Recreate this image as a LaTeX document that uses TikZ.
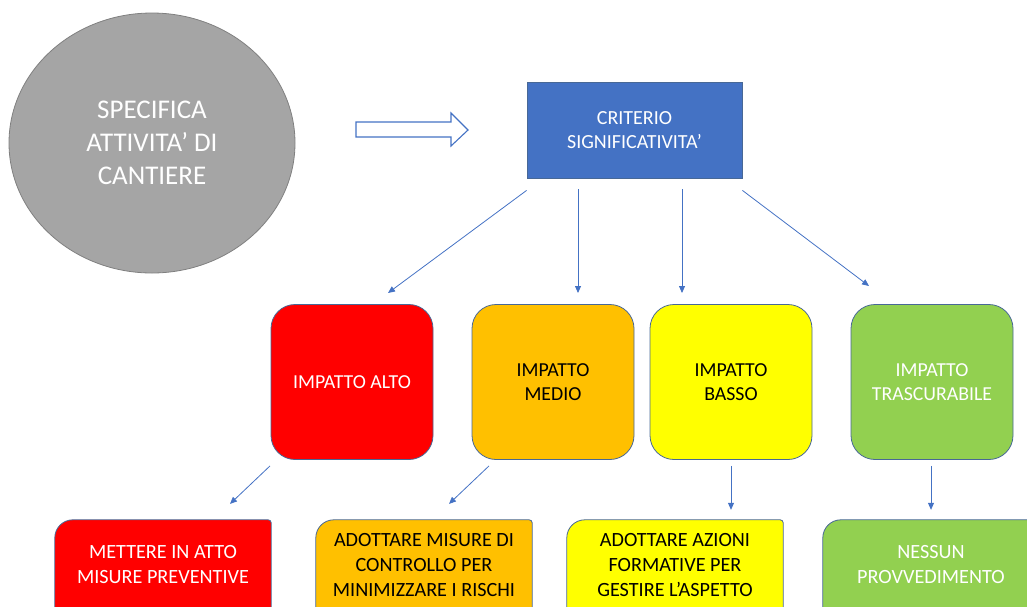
\documentclass[tikz,border=0pt]{standalone}
\usepackage{fontspec}
\setmainfont{Carlito}
\usetikzlibrary{shapes.geometric,arrows.meta,backgrounds}
\definecolor{critblue}{RGB}{68,114,196}
\definecolor{edgeblue}{RGB}{72,104,150}
\definecolor{altored}{RGB}{255,0,0}
\definecolor{medioorange}{RGB}{255,192,0}
\definecolor{bassoyellow}{RGB}{255,255,0}
\definecolor{trascgreen}{RGB}{146,208,80}
\definecolor{specgray}{RGB}{165,165,165}

\begin{document}
\begin{tikzpicture}[x=1pt, y=-1pt,
    impbox/.style={draw=edgeblue, line width=0.8pt, rounded corners=24pt, minimum width=162pt, minimum height=155pt, align=center, font=\fontsize{19.8}{24}\selectfont},
    actbox/.style={minimum width=216pt, minimum height=90pt, align=center, font=\fontsize{20.2}{25}\selectfont},
    conn/.style={critblue, line width=0.8pt, -{Triangle[length=7pt,width=6pt]}}]
    \useasboundingbox (0,0) rectangle (1027,606);

    \node[ellipse, fill=specgray, draw=gray, line width=0.8pt, minimum width=286pt, minimum height=260pt, text=white, align=center, font=\fontsize{27}{33}\selectfont] (spec) at (152,143) {SPECIFICA\\ATTIVITA’ DI\\CANTIERE};
    \draw[critblue, line width=1.1pt, fill=white, line join=miter] (356,122) -- (451,122) -- (451,113) -- (468,130) -- (451,146) -- (451,137) -- (356,137) -- cycle;
    \node[draw=edgeblue, fill=critblue, line width=0.8pt, minimum width=215pt, minimum height=96pt, text=white, align=center, font=\fontsize{20}{24}\selectfont] (crit) at (634.5,130) {CRITERIO\\SIGNIFICATIVITA’};

    % livelli di impatto
    \node[impbox, fill=altored, text=white] (alto) at (352,382) {IMPATTO ALTO};
    \node[impbox, fill=medioorange] (medio) at (553,382) {IMPATTO\\MEDIO};
    \node[impbox, fill=bassoyellow] (basso) at (731,382) {IMPATTO\\BASSO};
    \node[impbox, fill=trascgreen, text=white] (trasc) at (932,382) {IMPATTO\\TRASCURABILE};

    % azioni
    \node[actbox, text=white] (azalto) at (163,565) {METTERE IN ATTO\\MISURE PREVENTIVE};
    \node[actbox] (azmedio) at (424,565) {ADOTTARE MISURE DI\\CONTROLLO PER\\MINIMIZZARE I RISCHI};
    \node[actbox] (azbasso) at (675,565) {ADOTTARE AZIONI\\FORMATIVE PER\\GESTIRE L’ASPETTO};
    \node[actbox, text=white] (aztrasc) at (931,565) {NESSUN\\PROVVEDIMENTO};
    \begin{scope}[on background layer]
        \foreach \n/\c in {azalto/altored, azmedio/medioorange, azbasso/bassoyellow, aztrasc/trascgreen}
            \filldraw[fill=\c, draw=edgeblue, line width=0.8pt] (\n.south west) [rounded corners=18pt] -- (\n.north west) [rounded corners=3pt] -- (\n.north east) [sharp corners] -- (\n.south east);
    \end{scope}

    \coordinate (t1) at ([yshift=-12pt]crit.south west);
    \coordinate (t2) at (578,189);
    \coordinate (t3) at (682,189);
    \coordinate (t4) at ([yshift=-12pt]crit.south east);
    \coordinate (h1) at (388,293);
    \coordinate (h2) at (578,293);
    \coordinate (h3) at (682,293);
    \coordinate (h4) at (869,286);
    \foreach \i in {1,...,4}
        \draw[conn] (t\i) -- (h\i);

    \draw[conn] ([xshift=-82pt,yshift=-6pt]alto.south) -- ([xshift=-122pt,yshift=-44pt]alto.south);
    \draw[conn] ([xshift=-64pt,yshift=-6pt]medio.south) -- ([xshift=-104pt,yshift=-44pt]medio.south);
    \draw[conn] ([yshift=-6pt]basso.south) -- ([yshift=10pt]azbasso.north -| basso.south);
    \draw[conn] ([yshift=-6pt]aztrasc.north |- trasc.south) -- ([yshift=10pt]aztrasc.north);
\end{tikzpicture}
\end{document}
